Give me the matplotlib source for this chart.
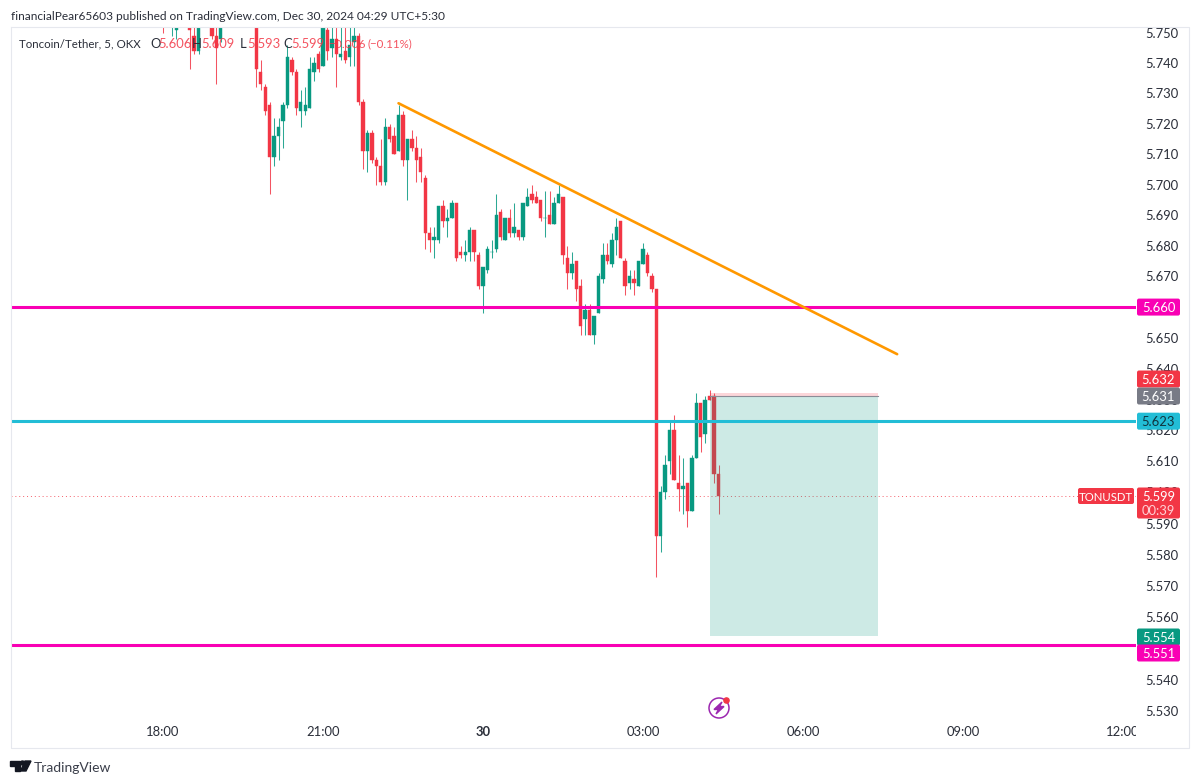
import numpy as np
import matplotlib
matplotlib.use("Agg")
import matplotlib.pyplot as plt
from matplotlib.patches import FancyBboxPatch, Circle, Polygon
from matplotlib.ticker import NullFormatter, NullLocator

plt.rcParams['font.family'] = ['Lato', 'DejaVu Sans']

# 5 minute candles, first one is 18:00
opens = [5.756,5.760,5.753,5.751,5.758,5.757,5.754,5.749,5.744,5.760,
         5.760,5.755,5.749,5.748,5.762,5.763,5.764,5.763,5.762,5.761,
         5.760,5.756,5.737,5.732,5.726,5.709,5.716,5.721,5.726,5.741,
         5.737,5.724,5.724,5.725,5.737,5.743,5.739,5.751,5.745,5.748,
         5.742,5.744,5.742,5.747,5.749,5.727,5.711,5.717,5.708,5.706,
         5.701,5.719,5.716,5.711,5.723,5.708,5.715,5.712,5.709,5.702,
         5.684,5.682,5.682,5.693,5.688,5.689,5.694,5.678,5.677,5.678,
         5.685,5.677,5.667,5.672,5.678,5.679,5.691,5.682,5.689,5.684,
         5.685,5.683,5.693,5.697,5.696,5.695,5.689,5.690,5.687,5.694,
         5.696,5.676,5.671,5.675,5.667,5.656,5.659,5.651,5.658,5.669,
         5.677,5.674,5.682,5.688,5.675,5.668,5.669,5.667,5.674,5.677,
         5.670,5.666,5.586,5.600,5.610,5.620,5.603,5.601,5.603,5.594,
         5.611,5.629,5.619,5.631,5.631,5.606]
highs = [5.757,5.762,5.756,5.756,5.760,5.759,5.755,5.752,5.756,5.762,
         5.762,5.756,5.752,5.756,5.764,5.765,5.766,5.765,5.764,5.763,
         5.762,5.758,5.741,5.733,5.727,5.722,5.722,5.727,5.746,5.742,
         5.738,5.731,5.732,5.742,5.742,5.744,5.757,5.756,5.753,5.753,
         5.752,5.752,5.752,5.752,5.750,5.728,5.718,5.718,5.709,5.715,
         5.722,5.720,5.719,5.726,5.724,5.715,5.718,5.716,5.712,5.703,
         5.686,5.686,5.693,5.695,5.692,5.695,5.694,5.680,5.682,5.686,
         5.685,5.678,5.673,5.680,5.682,5.697,5.692,5.689,5.692,5.694,
         5.685,5.694,5.699,5.700,5.698,5.695,5.698,5.698,5.696,5.700,
         5.696,5.680,5.678,5.675,5.669,5.661,5.661,5.657,5.671,5.681,
         5.681,5.684,5.689,5.688,5.676,5.672,5.672,5.675,5.681,5.678,
         5.671,5.666,5.602,5.612,5.623,5.625,5.612,5.611,5.603,5.612,
         5.632,5.629,5.631,5.633,5.632,5.609]
lows = [5.750,5.757,5.749,5.748,5.756,5.755,5.738,5.743,5.743,5.757,
        5.757,5.748,5.733,5.747,5.760,5.761,5.762,5.761,5.760,5.759,
        5.757,5.732,5.731,5.723,5.697,5.706,5.708,5.712,5.725,5.736,
        5.723,5.719,5.723,5.725,5.734,5.737,5.739,5.741,5.742,5.732,
        5.741,5.740,5.739,5.739,5.726,5.705,5.704,5.707,5.700,5.700,
        5.700,5.714,5.710,5.711,5.706,5.695,5.711,5.701,5.701,5.679,
        5.678,5.676,5.681,5.686,5.683,5.689,5.675,5.676,5.675,5.675,
        5.675,5.666,5.658,5.671,5.676,5.678,5.682,5.682,5.683,5.683,
        5.682,5.682,5.693,5.694,5.694,5.688,5.683,5.687,5.687,5.694,
        5.674,5.666,5.669,5.662,5.651,5.651,5.651,5.648,5.658,5.668,
        5.674,5.673,5.677,5.676,5.664,5.666,5.664,5.667,5.674,5.670,
        5.665,5.573,5.581,5.598,5.606,5.604,5.594,5.593,5.589,5.594,
        5.611,5.613,5.616,5.630,5.603,5.593]
closes = [5.754,5.758,5.755,5.755,5.757,5.756,5.751,5.744,5.755,5.758,
          5.758,5.749,5.745,5.755,5.763,5.764,5.763,5.762,5.761,5.760,
          5.758,5.738,5.733,5.724,5.709,5.716,5.719,5.726,5.742,5.737,
          5.725,5.727,5.726,5.738,5.740,5.738,5.755,5.744,5.748,5.743,
          5.743,5.741,5.746,5.749,5.727,5.711,5.717,5.708,5.706,5.701,
          5.719,5.715,5.710,5.723,5.708,5.715,5.712,5.708,5.704,5.684,
          5.682,5.683,5.693,5.688,5.689,5.694,5.676,5.677,5.678,5.685,
          5.678,5.667,5.673,5.679,5.678,5.690,5.683,5.689,5.684,5.686,
          5.683,5.694,5.696,5.695,5.694,5.689,5.689,5.687,5.694,5.697,
          5.677,5.671,5.674,5.666,5.654,5.659,5.651,5.657,5.670,5.677,
          5.675,5.682,5.686,5.676,5.667,5.670,5.668,5.675,5.679,5.671,
          5.666,5.586,5.600,5.609,5.620,5.604,5.601,5.602,5.594,5.611,
          5.629,5.618,5.630,5.630,5.606,5.599]

level_upper = 5.660
level_mid = 5.623
level_lower = 5.551
last_price = 5.599
entry = 5.631
stop = 5.632
target = 5.554
box_bars = [123, 161]
trend_bars = [53, 165.2]
trend_prices = [5.7267, 5.6447]

price_ticks = [5.75,5.74,5.73,5.72,5.71,5.70,5.69,5.68,5.67,5.66,5.65,5.64,5.63,
               5.62,5.61,5.60,5.59,5.58,5.57,5.56,5.55,5.54,5.53]
time_bars = [0, 36, 72, 108, 144, 180, 216]
time_labels = ['18:00', '21:00', '30', '03:00', '06:00', '09:00', '12:00']

UP = '#089981'
DOWN = '#f23645'
MAGENTA = '#f900b4'
CYAN = '#22bdd6'
TEXT = '#2a2e39'
FS = 9.4

fig = plt.figure(figsize=(12, 7.84), dpi=100)

ax = fig.add_axes([11/1200, 1-748/784, (1136-11)/1200, (748-27)/784])
ax.set_yscale('log')
ax.set_xlim((11-163)/4.444, (1136-163)/4.444)
ax.set_ylim(5.51835, 5.75186)
for s in ax.spines.values():
    s.set_visible(False)

bars = np.arange(len(opens))
o = np.array(opens)
c = np.array(closes)
colors = [UP if b >= a else DOWN for a, b in zip(opens, closes)]
ax.vlines(bars, lows, highs, colors=colors, lw=0.75, alpha=0.85, zorder=2)
ax.bar(bars, np.abs(c-o), bottom=np.minimum(o, c), width=0.76, color=colors,
       edgecolor=colors, lw=0.3, zorder=3)

# long position tool
ax.fill_between(box_bars, target, entry, color=UP, alpha=0.2, lw=0, zorder=4)
ax.fill_between(box_bars, entry, stop, color=DOWN, alpha=0.2, lw=0, zorder=4)
ax.plot(box_bars, [entry, entry], color='#8a8d96', lw=0.8, zorder=4)

ax.axhline(last_price, color=DOWN, lw=0.7, ls=(0, (1, 3)), alpha=0.8, zorder=1)
ax.axhline(level_upper, color=MAGENTA, lw=2.2, zorder=5)
ax.axhline(level_lower, color=MAGENTA, lw=2.2, zorder=5)
ax.axhline(level_mid, color=CYAN, lw=2.2, zorder=5)
ax.plot(trend_bars, trend_prices, color='#ff9800', lw=1.9, zorder=5, solid_capstyle='round')

ax.yaxis.tick_right()
ax.set_yticks(price_ticks, [f'{p:.3f}' for p in price_ticks])
ax.yaxis.set_minor_locator(NullLocator())
ax.yaxis.set_minor_formatter(NullFormatter())
ax.tick_params(axis='y', length=0, pad=6.5, labelsize=FS, labelcolor=TEXT)
ax.set_xticks(time_bars, time_labels)
ax.tick_params(axis='x', length=0, pad=-15.5, labelsize=FS, labelcolor=TEXT)
for lab, txt in zip(ax.get_xticklabels(), time_labels):
    lab.set_clip_on(True)
    lab.set_clip_box(ax.bbox)
    if txt == '30':
        lab.set_fontweight('bold')

# everything below is drawn in picture pixels on top of the chart
ui = fig.add_axes([0, 0, 1, 1], zorder=10)
ui.set_xlim(0, 1200)
ui.set_ylim(784, 0)
ui.axis('off')
ui.patch.set_alpha(0)

FRAME = '#e6e8ee'
ui.plot([11, 11, 1189, 1189, 11], [27, 748, 748, 27, 27], color=FRAME, lw=0.8)


def price_y(p):
    return 784 - ax.transData.transform((0, p))[1]


def tag(y, txt, fc, tc='white', x0=1137, x1=1180, h=17, fs=FS):
    ui.add_patch(FancyBboxPatch((x0+2, y-h/2+2), x1-x0-4, h-4, boxstyle='round,pad=2,rounding_size=2',
                                fc=fc, ec='none', zorder=3))
    ui.text((x0+x1)/2, y, txt, color=tc, fontsize=fs, ha='center', va='center_baseline', zorder=4)


tag(price_y(level_upper), f'{level_upper:.3f}', MAGENTA)
tag(379, f'{stop:.3f}', DOWN)
tag(396, f'{entry:.3f}', '#787b86')
tag(price_y(level_mid), f'{level_mid:.3f}', CYAN, tc='#10343f')
tag(637, f'{target:.3f}', UP)
tag(653, f'{level_lower:.3f}', MAGENTA)
tag(503, '', DOWN, h=31)
ui.text(1158.5, 496, f'{last_price:.3f}', color='white', fontsize=FS, ha='center', va='center_baseline', zorder=4)
ui.text(1158.5, 510, '00:39', color='#ffd0d5', fontsize=FS, ha='center', va='center_baseline', zorder=4)
tag(496, 'TONUSDT', DOWN, x0=1078, x1=1134, h=16, fs=8.2)

# header and legend
ui.text(11, 15, 'financialPear65603 published on TradingView.com, Dec 30, 2024 04:29 UTC+5:30',
        color=TEXT, fontsize=8.6, va='center_baseline')
ui.text(19, 43, 'Toncoin/Tether, 5, OKX', color=TEXT, fontsize=8.3, va='center_baseline')
for x, txt, col, fs in [(150, 'O', TEXT, FS), (158, '5.606', DOWN, FS), (192, 'H', TEXT, FS), (201, '5.609', DOWN, FS),
                        (240, 'L', TEXT, FS), (247, '5.593', DOWN, FS), (283, 'C', TEXT, FS), (291, '5.599', DOWN, FS),
                        (328, '\u22120.006', DOWN, 8.6), (368, '(\u22120.11%)', DOWN, 8.3)]:
    ui.text(x, 43, txt, color=col, fontsize=fs, va='center_baseline', alpha=0.85 if col == DOWN else 1)

# footer logo
ui.add_patch(Polygon([(10, 761), (20, 761), (20, 771), (15, 771), (15, 766), (10, 766)], color='#131722'))
ui.add_patch(Circle((22.5, 763), 2, color='#131722'))
ui.add_patch(Polygon([(25, 761), (31, 761), (26, 771), (20.5, 771)], color='#131722'))
ui.text(34, 767, 'TradingView', color='#3a3e4a', fontsize=10, va='center_baseline')

# bolt icon
ui.add_patch(Circle((719, 708), 10, fc='white', ec='#9c27b0', lw=1.1))
ui.add_patch(Polygon([(722, 702), (714, 709.5), (718.5, 709.5), (716, 714), (724, 706.5), (719.5, 706.5)],
                     color='#9c27b0'))
ui.add_patch(Circle((726.5, 700.5), 2.6, color=DOWN))

fig.savefig('out.png', dpi=100)
